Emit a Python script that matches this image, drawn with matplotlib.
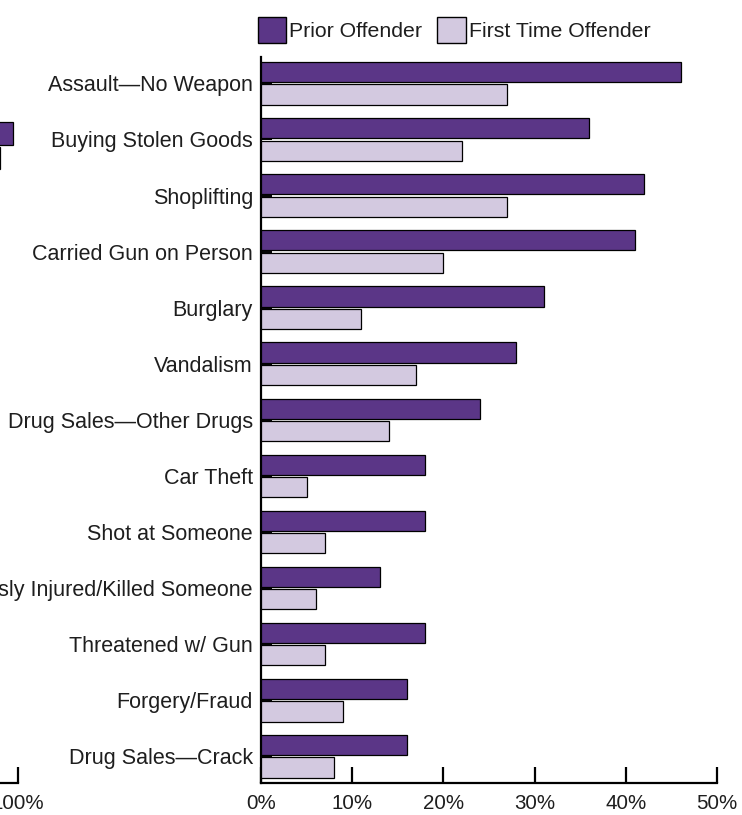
#!/usr/bin/env python3
import numpy as np
import matplotlib.pyplot as plt
from matplotlib.patches import Patch

plt.rcParams['font.family'] = ['Liberation Sans', 'DejaVu Sans']

# datos: porcentaje por tipo de delito
categorias = [
    "Assault\u2014No Weapon",
    "Buying Stolen Goods",
    "Shoplifting",
    "Carried Gun on Person",
    "Burglary",
    "Vandalism",
    "Drug Sales\u2014Other Drugs",
    "Car Theft",
    "Shot at Someone",
    "Seriously Injured/Killed Someone",
    "Threatened w/ Gun",
    "Forgery/Fraud",
    "Drug Sales\u2014Crack",
]
reincidente = [46, 36, 42, 41, 31, 28, 24, 18, 18, 13, 18, 16, 16]
primera_vez = [27, 22, 27, 20, 11, 17, 14, 5, 7, 6, 7, 9, 8]

ticks_x = [0, 10, 20, 30, 40, 50]
etiquetas_x = ["0%", "10%", "20%", "30%", "40%", "50%"]

# panel vecino (izquierda), solo se alcanza a ver su borde
vecino_reincidente = [99]
vecino_primera = [96]
vecino_ticks = [0, 20, 40, 60, 80, 100]
vecino_etiquetas = ["0%", "20%", "40%", "60%", "80%", "100%"]

morado = "#5b3687"
lila = "#d3c9e0"
texto = "#1e1e1e"

W, H = 742, 815
fig = plt.figure(figsize=(W / 100, H / 100), dpi=100)


def px(x0, y0, x1, y1):
    # rectangulo en pixeles -> coordenadas de figura
    return [x0 / W, 1 - y1 / H, (x1 - x0) / W, (y1 - y0) / H]


def estilo_ejes(ax):
    for lado in ["top", "right"]:
        ax.spines[lado].set_visible(False)
    for lado in ["left", "bottom"]:
        ax.spines[lado].set_linewidth(1.6)
        ax.spines[lado].set_color("black")
    ax.tick_params(axis="x", direction="in", length=11.5, width=1.6,
                   labelsize=14.8, labelcolor=texto, pad=8)
    ax.tick_params(axis="y", direction="in", length=8, width=1.4,
                   labelsize=15.5, labelcolor=texto, pad=5.8)


# panel de la izquierda, casi todo fuera del lienzo (se dibuja primero
# y sin fondo para no tapar las etiquetas del panel principal)
ax2 = fig.add_axes(px(-438, 57, 18, 783))
ax2.patch.set_visible(False)
ax2.barh([0.894], vecino_reincidente, height=0.41, color=morado,
         edgecolor="black", linewidth=0.9, zorder=3)
ax2.barh([1.331], vecino_primera, height=0.41, color=lila,
         edgecolor="black", linewidth=0.9, zorder=3)
ax2.set_ylim(12.476, -0.47)
ax2.set_xlim(0, 100)
ax2.set_xticks(vecino_ticks)
ax2.set_xticklabels(vecino_etiquetas)
ax2.set_yticks([])
estilo_ejes(ax2)

ax = fig.add_axes(px(261, 57, 717, 783))
ax.patch.set_visible(False)
y = np.arange(len(categorias))
alto = 0.36
ax.barh(y - 0.2, reincidente, height=alto, color=morado,
        edgecolor="black", linewidth=0.9, label="Prior Offender", zorder=3)
ax.barh(y + 0.2, primera_vez, height=alto, color=lila,
        edgecolor="black", linewidth=0.9, label="First Time Offender", zorder=3)
ax.set_yticks(y)
ax.set_yticklabels(categorias)
ax.set_ylim(12.476, -0.47)
ax.set_xlim(0, 50)
ax.set_xticks(ticks_x)
ax.set_xticklabels(etiquetas_x)
estilo_ejes(ax)

handles = [Patch(facecolor=morado, edgecolor="black", linewidth=1.0),
           Patch(facecolor=lila, edgecolor="black", linewidth=1.0)]
fig.legend(handles, ["Prior Offender", "First Time Offender"],
           loc="upper left", bbox_to_anchor=(258 / W, 1 - 17 / H),
           ncol=2, frameon=False, fontsize=15.3, labelcolor=texto,
           handlelength=1.33, handleheight=1.5, handletextpad=0.15,
           columnspacing=0.7, borderpad=0, borderaxespad=0)

fig.savefig("out.png", dpi=100)
